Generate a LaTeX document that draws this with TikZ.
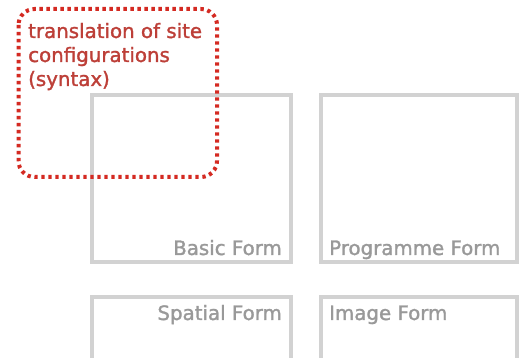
\documentclass[tikz,border=0pt]{standalone}
\usepackage{fontspec}
\setmainfont{DejaVu Sans}
\definecolor{boxgray}{HTML}{D2D2D2}
\definecolor{labelgray}{HTML}{999999}
\definecolor{dotred}{HTML}{D42A22}
\definecolor{textred}{HTML}{BD3F38}
\newcommand{\medweight}{\addfontfeature{FakeBold=1.5}}
\tikzset{
  formbox/.style={draw=boxgray, line width=3.5pt},
  formlabel/.style={text=labelgray, inner sep=0pt, font=\fontsize{19.8}{22}\selectfont\medweight},
  redbox/.style={draw=dotred, line width=4pt, dash pattern=on 3.3pt off 3.7pt, rounded corners=16pt},
  redtext/.style={text=textred, inner sep=0pt, align=left, font=\fontsize{19.8}{24}\selectfont\medweight}
}
\begin{document}
\begin{tikzpicture}[x=1pt,y=-1pt]
\useasboundingbox (0,0) rectangle (520,358);
\clip (0,0) rectangle (520,358);
\fill[white] (0,0) rectangle (520,358);
% boxes
\draw[formbox] (92,95) rectangle (291,262);
\draw[formbox] (321,95) rectangle (517,262);
\draw[formbox] (92,297) rectangle (291,380);
\draw[formbox] (321,297) rectangle (517,380);
% labels
\node[formlabel, anchor=base east] (basic) at (282,255) {Basic Form};
\node[formlabel, anchor=base west] (prog) at (329,255) {Programme Form};
\node[formlabel, anchor=base east] (spatial) at (282,320) {Spatial Form};
\node[formlabel, anchor=base west] (image) at (329,320) {Image Form};
% red dotted box
\draw[redbox] (18.5,9) rectangle (217,177);
\node[redtext, anchor=base west] (trans) at (28,38) {translation of site};
\node[redtext, anchor=base west] (conf) at (28,62) {configurations};
\node[redtext, anchor=base west] (syn) at (28,86) {(syntax)};
\end{tikzpicture}
\end{document}
